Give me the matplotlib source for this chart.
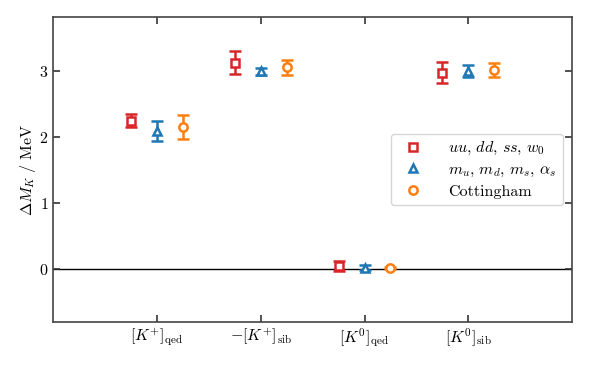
import matplotlib
matplotlib.use("Agg")
import matplotlib.pyplot as plt
import matplotlib.lines as mlines
import numpy as np

plt.rcParams['font.family'] = 'serif'
plt.rcParams['font.serif'] = ['cmr10', 'DejaVu Serif']
plt.rcParams['mathtext.fontset'] = 'cm'
plt.rcParams['axes.formatter.use_mathtext'] = True

categories = [r'$[K^{+}]_{\mathrm{qed}}$', r'$-[K^{+}]_{\mathrm{sib}}$',
              r'$[K^{0}]_{\mathrm{qed}}$', r'$[K^{0}]_{\mathrm{sib}}$']

labels = [r'$uu,\, dd,\, ss,\, w_0$', r'$m_u,\, m_d,\, m_s,\, \alpha_s$', 'Cottingham']

val_a = [2.25, 3.13, 0.045, 2.98]
err_a = [0.10, 0.17, 0.08, 0.16]
val_b = [2.09, 3.00, 0.025, 3.00]
err_b = [0.15, 0.05, 0.04, 0.09]
val_c = [2.15, 3.06, 0.015, 3.02]
err_c = [0.18, 0.11, 0.02, 0.10]

colors = ['#d62728', '#1f77b4', '#ff7f0e']
markers = ['s', '^', 'o']
offsets = [-0.25, 0.0, 0.25]

fig, ax = plt.subplots(figsize=(5.91, 3.65), dpi=100)
fig.subplots_adjust(left=0.09, right=0.968, top=0.953, bottom=0.118)

ax.axhline(0, color='black', lw=1.0, zorder=1)

x = np.arange(len(categories))
for vals, errs, col, mk, off, lab in zip([val_a, val_b, val_c], [err_a, err_b, err_c],
                                         colors, markers, offsets, labels):
    ax.errorbar(x + off, vals, yerr=errs, fmt=mk, color=col, mfc='white', mec=col,
                mew=1.8, ms=6, capsize=4, capthick=1.8, elinewidth=1.8,
                label=lab, zorder=3)

ax.set_xlim(-1, 4)
ax.set_ylim(-0.8, 3.82)
ax.set_xticks(x)
ax.set_xticklabels(categories, fontsize=11.5)
ax.set_yticks([0, 1, 2, 3])
ax.tick_params(axis='both', direction='in', top=True, right=True, length=5,
               width=1.2, labelsize=11.5, colors='#333333', labelcolor='black')
for s in ax.spines.values():
    s.set_color('#444444')
    s.set_linewidth(1.2)
ax.set_ylabel(r'$\Delta M_K\ /\ \mathrm{MeV}$', fontsize=11.5, labelpad=1)

# legend shows markers only
h = [mlines.Line2D([], [], ls='none', marker=m, color=c, mfc='white', mec=c, mew=1.8, ms=6)
     for m, c in zip(markers, colors)]
ax.legend(h, labels, loc='center right', fontsize=11.5, frameon=True,
          edgecolor='#cccccc', bbox_to_anchor=(0.997, 0.5), labelspacing=0.35,
          handletextpad=1.2)

fig.savefig('out.png', dpi=100)
